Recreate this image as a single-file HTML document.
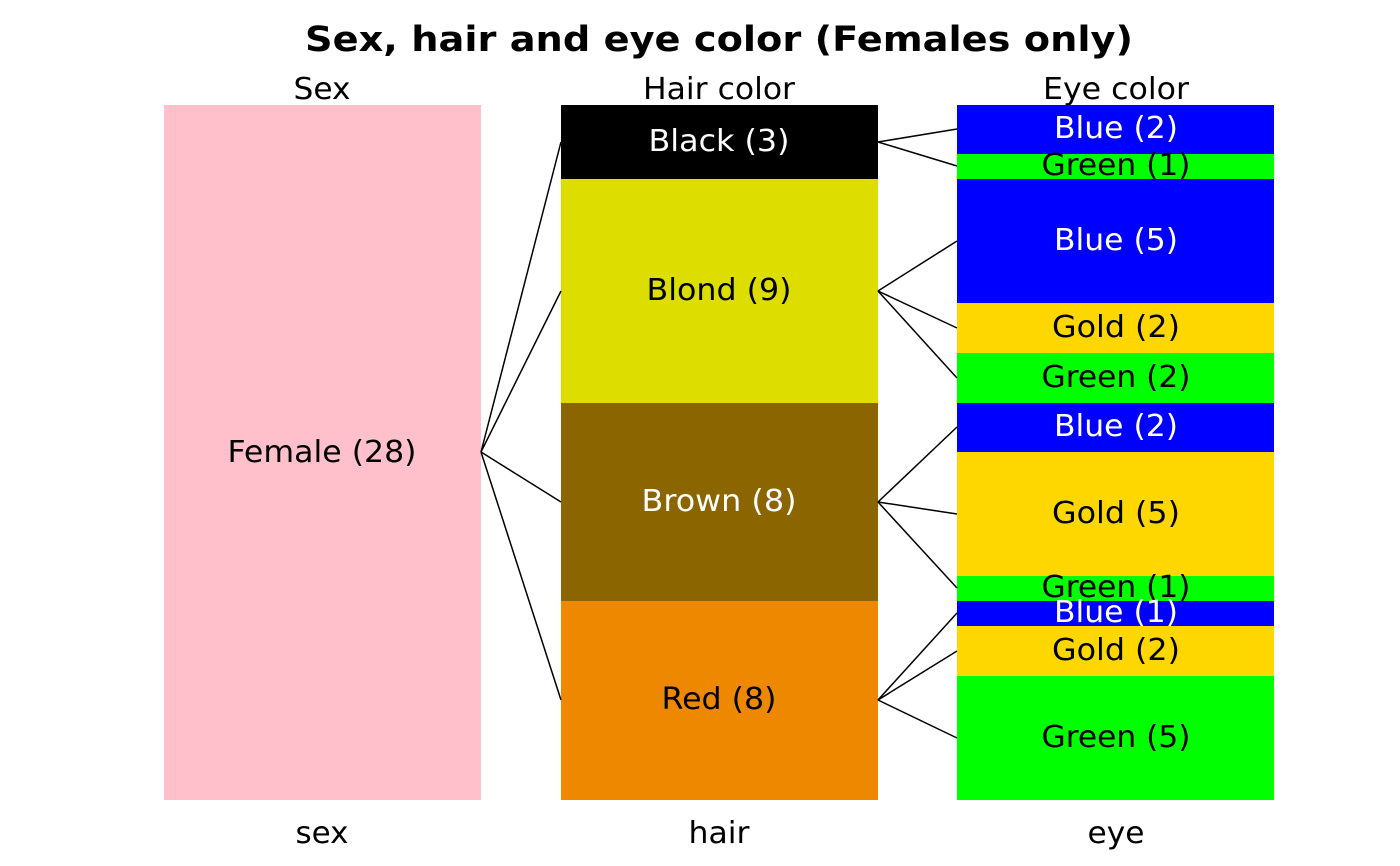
<!DOCTYPE html>
<html><head><meta charset="utf-8"><style>
html,body{margin:0;padding:0;background:#fff;}
svg{display:block;font-family:"DejaVu Sans","Liberation Sans",sans-serif;}
text{font-size:30px;}
</style></head><body>
<svg width="1400" height="866" viewBox="0 0 1400 866" xmlns="http://www.w3.org/2000/svg">
<text x="719" y="51" style="font-size:35px;font-weight:bold" text-anchor="middle" textLength="828" lengthAdjust="spacingAndGlyphs">Sex, hair and eye color (Females only)</text>
<g text-anchor="middle">
<text x="322" y="99" textLength="57" lengthAdjust="spacingAndGlyphs">Sex</text>
<text x="719" y="99" textLength="152" lengthAdjust="spacingAndGlyphs">Hair color</text>
<text x="1116" y="99" textLength="146" lengthAdjust="spacingAndGlyphs">Eye color</text>
<text x="322" y="843" textLength="53" lengthAdjust="spacingAndGlyphs">sex</text>
<text x="719" y="843" textLength="61" lengthAdjust="spacingAndGlyphs">hair</text>
<text x="1116" y="843" textLength="57" lengthAdjust="spacingAndGlyphs">eye</text>
</g>
<rect x="164" y="105" width="317" height="695" fill="#FFC0CB"/>
<rect x="561" y="105" width="317" height="74" fill="#000"/>
<rect x="561" y="179" width="317" height="224" fill="#DDDD00"/>
<rect x="561" y="403" width="317" height="198" fill="#8B6500"/>
<rect x="561" y="601" width="317" height="199" fill="#EE8800"/>
<rect x="957" y="105" width="317" height="49" fill="#0000FF"/>
<rect x="957" y="154" width="317" height="25" fill="#00FF00"/>
<rect x="957" y="179" width="317" height="124" fill="#0000FF"/>
<rect x="957" y="303" width="317" height="50" fill="#FFD700"/>
<rect x="957" y="353" width="317" height="50" fill="#00FF00"/>
<rect x="957" y="403" width="317" height="49" fill="#0000FF"/>
<rect x="957" y="452" width="317" height="124" fill="#FFD700"/>
<rect x="957" y="576" width="317" height="25" fill="#00FF00"/>
<rect x="957" y="601" width="317" height="25" fill="#0000FF"/>
<rect x="957" y="626" width="317" height="50" fill="#FFD700"/>
<rect x="957" y="676" width="317" height="124" fill="#00FF00"/>
<g stroke="#000" stroke-width="1.5" fill="none">
<path d="M481 452L561 142M481 452L561 291M481 452L561 502M481 452L561 700"/>
<path d="M878 142L957 129M878 142L957 166"/>
<path d="M878 291L957 241M878 291L957 328M878 291L957 378"/>
<path d="M878 502L957 427M878 502L957 514M878 502L957 588"/>
<path d="M878 700L957 613M878 700L957 651M878 700L957 738"/>
</g>
<g text-anchor="middle">
<text x="322" y="462" textLength="189" lengthAdjust="spacingAndGlyphs">Female (28)</text>
<text x="719" y="151" fill="#fff" textLength="141" lengthAdjust="spacingAndGlyphs">Black (3)</text>
<text x="719" y="300" textLength="145" lengthAdjust="spacingAndGlyphs">Blond (9)</text>
<text x="719" y="511" fill="#fff" textLength="155" lengthAdjust="spacingAndGlyphs">Brown (8)</text>
<text x="719" y="709" textLength="115" lengthAdjust="spacingAndGlyphs">Red (8)</text>
<text x="1116" y="138" fill="#fff" textLength="124" lengthAdjust="spacingAndGlyphs">Blue (2)</text>
<text x="1116" y="175" textLength="149" lengthAdjust="spacingAndGlyphs">Green (1)</text>
<text x="1116" y="250" fill="#fff" textLength="124" lengthAdjust="spacingAndGlyphs">Blue (5)</text>
<text x="1116" y="337" textLength="128" lengthAdjust="spacingAndGlyphs">Gold (2)</text>
<text x="1116" y="387" textLength="149" lengthAdjust="spacingAndGlyphs">Green (2)</text>
<text x="1116" y="436" fill="#fff" textLength="124" lengthAdjust="spacingAndGlyphs">Blue (2)</text>
<text x="1116" y="523" textLength="128" lengthAdjust="spacingAndGlyphs">Gold (5)</text>
<text x="1116" y="597" textLength="149" lengthAdjust="spacingAndGlyphs">Green (1)</text>
<text x="1116" y="622" fill="#fff" textLength="124" lengthAdjust="spacingAndGlyphs">Blue (1)</text>
<text x="1116" y="660" textLength="128" lengthAdjust="spacingAndGlyphs">Gold (2)</text>
<text x="1116" y="747" textLength="149" lengthAdjust="spacingAndGlyphs">Green (5)</text>
</g>
</svg>
</body></html>
